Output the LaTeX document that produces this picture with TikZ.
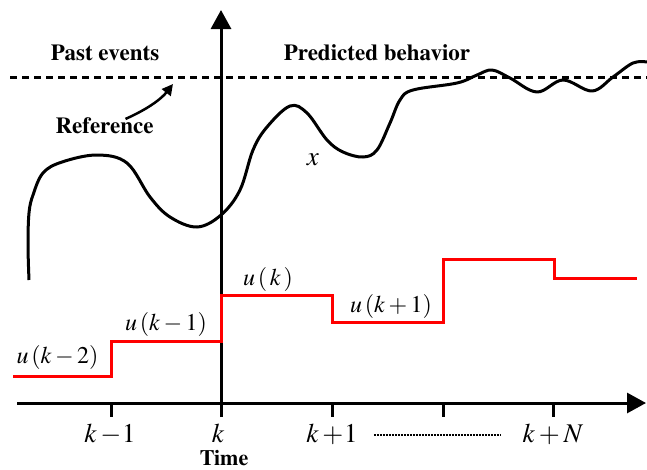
\documentclass[tikz,border=0pt]{standalone}
\usepackage[T1]{fontenc}
\usepackage{mathptmx}
\usetikzlibrary{arrows.meta}

\tikzset{
  axisline/.style={line width=3pt, -{Triangle[length=19pt,width=20pt]}},
  tickmark/.style={line width=3pt},
  refline/.style={line width=3pt, dash pattern=on 7pt off 5pt},
  refarrow/.style={line width=2.5pt, -{Triangle[length=11pt,width=11pt]}},
  ctrlstep/.style={red, line width=3pt, line join=miter},
  statecurve/.style={line width=3pt, line join=round},
  headtext/.style={font=\fontsize{23}{27}\selectfont\bfseries, inner sep=0pt, anchor=base},
  ulabel/.style={font=\fontsize{24}{28}\selectfont, inner sep=0pt, anchor=base},
  ticklabel/.style={font=\fontsize{27}{30}\selectfont, inner sep=0pt, anchor=base},
}

\begin{document}
\begin{tikzpicture}[x=1pt, y=-1pt]
        \useasboundingbox (0,0) rectangle (647,469);
        % --- SETTINGS ---
        \def\AxisY{403}    % time axis height
        \def\RefY{77}      % reference level

        % --- AXES ---
        \coordinate (t0) at (17,\AxisY);
        \coordinate (tend) at (646,\AxisY);
        \coordinate (ybot) at (221,417);
        \coordinate (ytop) at (221,10);
        \draw[axisline] (t0) -- (tend);
        \draw[axisline] (ybot) -- (ytop);
        \foreach \tx in {111,332,443,553}
            \draw[tickmark] (\tx,\AxisY) -- (\tx,417);

        % --- TICK LABELS ---
        \node[ticklabel] (km1) at (110,442) {$k-\!1$};
        \node[ticklabel] (k0) at (218,442) {$k$};
        \node[ticklabel] (kp1) at (332,442) {$k+\!1$};
        \node[ticklabel] (kpN) at (553,442) {$k+N$};
        \draw[line width=1.3pt, dash pattern=on 1.6pt off 1.4pt]
            ([xshift=16pt,yshift=7pt]kp1.base east) -- ([xshift=-22pt,yshift=7pt]kpN.base west);
        \node[font=\fontsize{22}{24}\selectfont\bfseries, inner sep=0pt, anchor=base] (tlbl) at (224,465) {Time};

        % --- REFERENCE ---
        \coordinate (rl0) at (10,\RefY);
        \coordinate (rl1) at (647,\RefY);
        \draw[refline] (rl0) -- (rl1);
        \node[headtext] (past) at (105,60) {Past events};
        \node[headtext] (pred) at (377,60) {Predicted behavior};
        \node[headtext] (reflbl) at (104.5,133) {Reference};
        \coordinate (reftip) at (173,84);
        \draw[refarrow] ([xshift=21pt,yshift=-2pt]reflbl.north) .. controls (150,108) and (162,98) .. (reftip);

        % --- STATE x (measured points, smoothed) ---
        \draw[statecurve] plot[smooth, tension=0.6] coordinates {
            (29,280) (28,245) (29,213) (33,195) (43,173) (62,162) (97,155)
            (127,163) (150,197) (170,217) (197,227) (221,215) (240,190)
            (253,150) (267,127) (290,106) (307,113) (327,140) (343,152)
            (363,157) (377,150) (390,123) (400,100) (413,90) (457,83)
            (477,75) (492,70) (510,78) (537,92) (563,80) (592,91)
            (613,77) (633,63) (647,62)};
        \node[font=\fontsize{27}{30}\selectfont, inner sep=0pt, anchor=base] (xlbl) at (313,165) {$x$};

        % --- CONTROL INPUT u (piecewise constant) ---
        \draw[ctrlstep] (13,376) -- (111,376) -- (111,341) -- (221,341) -- (221,295)
            -- (332,295) -- (332,322) -- (443,322) -- (443,259) -- (554,259)
            -- (554,278) -- (637,278);
        \node[ulabel] (ukm2) at (57.5,363) {$u\,(k-2)$};
        \node[ulabel] (ukm1) at (166,330) {$u\,(k-1)$};
        \node[ulabel] (uk) at (268,285) {$u\,(\,k\,)$};
        \node[ulabel] (ukp1) at (391,312) {$u\,(k+1)$};
    \end{tikzpicture}
\end{document}
